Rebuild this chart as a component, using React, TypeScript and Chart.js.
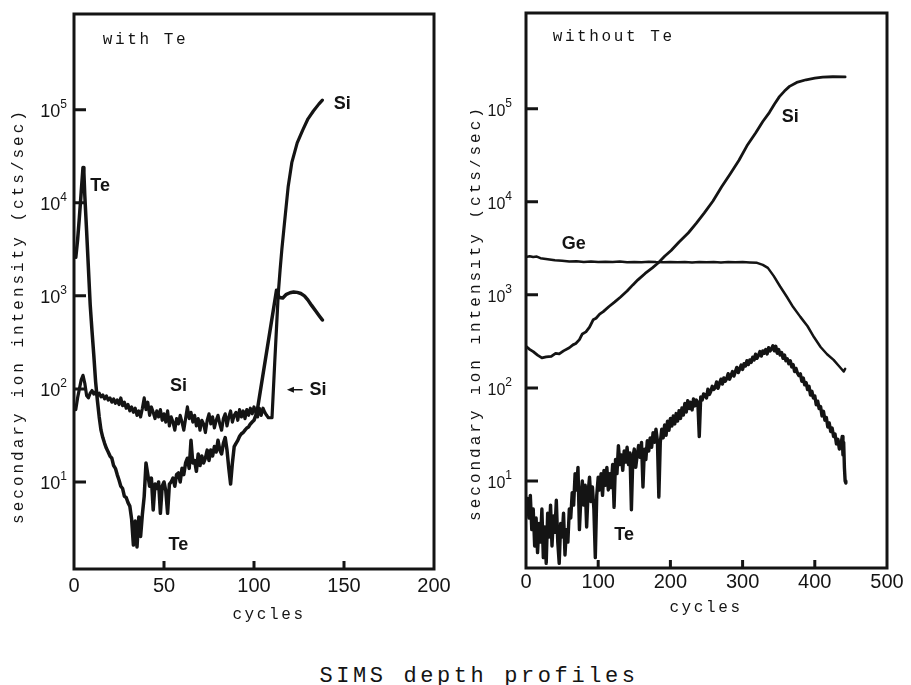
import React, { useEffect, useRef } from 'react';
import { Chart, registerables } from 'chart.js';

Chart.register(...registerables);

// ---------------- data ----------------
// left panel "with Te": [cycle, counts/sec]
const siWithTe: [number, number][] = [
  [1, 60], [2, 80], [3, 100], [4, 125], [5, 140], [6, 115], [7, 85], [8, 80], [9, 90], [10, 96],
  [11, 88], [12, 93], [13, 84], [14, 90], [15, 82], [16, 86], [17, 78], [18, 84], [19, 76], [20, 80],
  [21, 72], [22, 78], [23, 70], [24, 76], [25, 68], [26, 80], [27, 66], [28, 72], [29, 62], [30, 68],
  [31, 58], [32, 64], [33, 56], [34, 62], [35, 52], [36, 58], [37, 50], [38, 62], [39, 80], [40, 60],
  [41, 72], [42, 52], [43, 64], [44, 56], [45, 48], [46, 58], [47, 50], [48, 60], [49, 46], [50, 54],
  [51, 44], [52, 58], [53, 40], [54, 50], [55, 44], [56, 36], [57, 48], [58, 42], [59, 52], [60, 44],
  [61, 36], [62, 48], [63, 64], [64, 48], [65, 56], [66, 44], [67, 52], [68, 40], [69, 48], [70, 36],
  [71, 46], [72, 42], [73, 34], [74, 46], [75, 54], [76, 42], [77, 50], [78, 38], [79, 46], [80, 52],
  [81, 42], [82, 36], [83, 48], [84, 54], [85, 40], [86, 50], [87, 58], [88, 44], [89, 52], [90, 56],
  [91, 46], [92, 60], [93, 50], [94, 58], [95, 48], [96, 60], [97, 52], [98, 62], [99, 54], [100, 64],
  [101, 56], [102, 50], [103, 62], [104, 52], [105, 62], [106, 56], [107, 52], [108, 49], [110, 49],
  [111.5, 190], [112.5, 450], [113.5, 1070], [114.5, 1900], [115.5, 3200], [116.5, 5000], [117.5, 7800],
  [119, 15000], [121, 27000], [124, 44000], [127, 60000], [130, 80000], [133, 97000], [136, 115000], [138, 127000],
];

const teWithTe: [number, number][] = [
  [1, 2600], [2, 4000], [3, 7000], [4, 13000], [5, 24000], [5.5, 21000], [6, 12000], [7, 5000], [8, 2000],
  [9, 800], [10, 420], [11, 230], [12, 120], [13, 75], [14, 50], [15, 36], [16, 30], [17, 26], [18, 23],
  [19, 21], [20, 19], [21, 18], [22, 15], [23, 14], [24, 12], [25, 10.5], [26, 9], [27, 8.5], [28, 7],
  [29, 6.8], [30, 6], [31, 5.5], [32, 4], [33, 2.1], [34, 3.8], [35, 2.0], [36, 4.2], [37, 2.6], [38, 4.5],
  [39, 7], [40, 16], [41, 12], [42, 9], [43, 11], [44, 5], [45, 9.5], [46, 8.5], [47, 10], [48, 4.6],
  [49, 9], [50, 10], [51, 8], [52, 4.6], [53, 9.5], [54, 10], [55, 11], [56, 9], [57, 12], [58, 12.5],
  [59, 10], [60, 14], [61, 12], [62, 16], [63, 18], [64, 14], [65, 28], [66, 16], [67, 17], [68, 13],
  [69, 20], [70, 15], [71, 19], [72, 16], [73, 18], [74, 22], [75, 17], [76, 22], [77, 19], [78, 24],
  [79, 21], [80, 28], [81, 22], [82, 20], [83, 26], [84, 30], [85, 22], [86, 14], [87, 9.5], [88, 16],
  [89, 24], [90, 26], [91, 28], [92, 31], [93, 33], [94, 34], [95, 36], [96, 38], [97, 39], [98, 42],
  [99, 44], [100, 46], [101, 52], [102, 62], [112.5, 1150], [114, 960], [116, 950], [118, 1040],
  [120, 1080], [122, 1100], [124, 1090], [126, 1060], [128, 1000], [130, 900], [132, 790], [134, 700],
  [136, 620], [138, 550],
];

// right panel "without Te"
const siWithoutTe: [number, number][] = [
  [0, 280], [5, 260], [10, 245], [16, 225], [22, 210], [28, 215], [35, 218], [41, 235], [46, 232],
  [52, 250], [60, 270], [65, 290], [69, 300], [74, 330], [78, 380], [83, 400], [88, 450], [93, 540],
  [97, 560], [102, 620], [107, 660], [115, 750], [123, 840], [131, 950], [140, 1100], [148, 1280],
  [155, 1450], [165, 1700], [175, 1950], [183, 2200], [192, 2600], [201, 3000], [212, 3700], [225, 4650],
  [236, 5900], [247, 7600], [259, 10200], [271, 14500], [283, 20000], [295, 28000], [306, 40000],
  [318, 55000], [328, 73000], [337, 91000], [344, 112000], [351, 135000], [358, 155000], [365, 174000],
  [375, 192000], [388, 205000], [400, 213000], [411, 219000], [425, 221000], [442, 220000],
];

const geWithoutTe: [number, number][] = [
  [0, 2550], [5, 2600], [10, 2550], [15, 2580], [20, 2480], [30, 2420], [40, 2350], [50, 2330],
  [60, 2280], [70, 2300], [80, 2260], [90, 2290], [100, 2250], [110, 2270], [120, 2250], [130, 2280],
  [140, 2240], [150, 2260], [160, 2240], [170, 2270], [180, 2250], [190, 2240], [200, 2260], [210, 2240],
  [220, 2250], [230, 2230], [240, 2260], [250, 2240], [260, 2250], [270, 2230], [280, 2260], [290, 2240],
  [300, 2250], [310, 2230], [320, 2210], [328, 2100], [335, 1950], [343, 1600], [352, 1230], [361, 960],
  [370, 740], [380, 580], [390, 460], [399, 350], [408, 275], [417, 230], [426, 200], [434, 170],
  [440, 150], [442, 160],
];

const teWithoutTe: [number, number][] = [
  [0, 5], [2, 6.5], [4, 4], [6, 7], [8, 3], [10, 5], [12, 2], [14, 4], [16, 1.7], [18, 3.5], [20, 2.2],
  [22, 5], [24, 1.5], [26, 3.2], [28, 1.3], [30, 4.5], [32, 2.5], [34, 5.5], [36, 2.0], [38, 4.2],
  [40, 2.8], [42, 6.2], [44, 2.2], [46, 1.3], [48, 3.5], [50, 2.5], [52, 4.5], [54, 1.6], [56, 3.0],
  [58, 2.2], [60, 5], [62, 4.0], [64, 7.5], [66, 5.5], [68, 12], [70, 8], [72, 14], [74, 3.0], [76, 6.5],
  [78, 10], [80, 5.5], [82, 9], [84, 3.2], [86, 7.5], [88, 11], [90, 6], [92, 8.6], [94, 5], [96, 1.5],
  [98, 7], [100, 11], [102, 8], [104, 12], [106, 7], [108, 13], [110, 9], [112, 14], [114, 8], [116, 12],
  [118, 8.5], [120, 15], [122, 5.2], [124, 17], [126, 12], [128, 24], [130, 15], [132, 19], [134, 13],
  [136, 21], [138, 16], [140, 23], [142, 15], [144, 20], [146, 4.9], [148, 18], [150, 22], [152, 14],
  [154, 19], [156, 24], [158, 18], [160, 26], [162, 8.6], [164, 22], [166, 17], [168, 27], [170, 21],
  [172, 29], [174, 23], [176, 33], [178, 26], [180, 36], [182, 27], [184, 6.7], [186, 26], [188, 36],
  [190, 29], [192, 40], [194, 31], [196, 44], [198, 35], [200, 47], [202, 39], [204, 50], [206, 41],
  [208, 53], [210, 44], [212, 57], [214, 47], [216, 61], [218, 51], [220, 68], [222, 55], [224, 73],
  [226, 60], [228, 70], [230, 58], [232, 76], [234, 64], [236, 74], [238, 70], [240, 30], [242, 80],
  [244, 74], [246, 86], [248, 84], [250, 78], [252, 97], [254, 85], [256, 92], [258, 104], [260, 96],
  [262, 101], [264, 116], [266, 99], [268, 112], [270, 124], [272, 110], [274, 128], [276, 118],
  [278, 126], [280, 142], [282, 124], [284, 136], [286, 150], [288, 134], [290, 150], [292, 166],
  [294, 146], [296, 160], [298, 176], [300, 158], [302, 182], [304, 172], [306, 196], [308, 178],
  [310, 200], [312, 188], [314, 214], [316, 200], [318, 230], [320, 208], [322, 224], [324, 246],
  [326, 220], [328, 250], [330, 236], [332, 258], [334, 232], [336, 270], [338, 250], [340, 262],
  [342, 284], [344, 250], [346, 280], [348, 236], [350, 258], [352, 226], [354, 240], [356, 208],
  [358, 226], [360, 196], [362, 205], [364, 182], [366, 196], [368, 168], [370, 178], [372, 150],
  [374, 162], [376, 144], [378, 136], [380, 142], [382, 118], [384, 128], [386, 108], [388, 114],
  [390, 96], [392, 104], [394, 84], [396, 92], [398, 78], [400, 82], [402, 66], [404, 72], [406, 60],
  [408, 63], [410, 50], [412, 56], [414, 45], [416, 48], [418, 38], [420, 42], [422, 34], [424, 37],
  [426, 30], [428, 32], [430, 25], [432, 28], [434, 22], [436, 24], [438, 30], [439, 19], [440, 26],
  [441, 14], [442, 10], [443, 9.5],
];

// ticks
const yTickValues = [1e1, 1e2, 1e3, 1e4, 1e5];
const yTickBase = '10';
const yTickExponents = ['1', '2', '3', '4', '5'];
const xTickValuesLeft = [0, 50, 100, 150, 200];
const xTickValuesRight = [0, 100, 200, 300, 400, 500];

const Y_MIN = 1.16;
const Y_MAX = 1.07e6;
const INK = '#141414';
const MONO = '"Liberation Mono", "DejaVu Sans Mono", monospace';
const SANS = '"Liberation Sans", Arial, sans-serif';

type Note = { text: string; x: number; y: number; size: number; mono?: boolean; bold?: boolean; spacing?: number; align?: CanvasTextAlign };
type Arrow = { x1: number; x2: number; y: number };

const decoPlugin = {
  id: 'deco',
  afterDraw(chart: any, _args: any, opts: any) {
    const { ctx, chartArea: a, scales } = chart;
    const xs = scales.x;
    const ys = scales.y;
    ctx.save();
    ctx.strokeStyle = INK;
    ctx.fillStyle = INK;
    ctx.lineWidth = 3;
    ctx.strokeRect(a.left, a.top, a.right - a.left, a.bottom - a.top);
    ctx.beginPath();
    ys.ticks.forEach((t: any) => {
      const y = ys.getPixelForValue(t.value);
      ctx.moveTo(a.left, y);
      ctx.lineTo(a.left + opts.yTickLen, y);
    });
    xs.ticks.forEach((t: any) => {
      if (t.value <= xs.min || t.value >= xs.max) return;
      const x = xs.getPixelForValue(t.value);
      ctx.moveTo(x, a.bottom);
      ctx.lineTo(x, a.bottom - opts.xTickLen);
    });
    ctx.stroke();

    // y tick labels: 10 with superscript exponent
    ctx.textAlign = 'right';
    ctx.textBaseline = 'alphabetic';
    ys.ticks.forEach((t: any, i: number) => {
      const y = ys.getPixelForValue(t.value);
      const right = a.left - opts.yLabelPad;
      ctx.font = `12px ${SANS}`;
      const ew = ctx.measureText(yTickExponents[i]).width;
      ctx.fillText(yTickExponents[i], right, y - 2);
      ctx.font = `${opts.yLabelSize}px ${SANS}`;
      ctx.fillText(yTickBase, right - ew, y + 7);
    });

    // arrows
    ctx.lineWidth = 1.5;
    (opts.arrows as Arrow[]).forEach((ar) => {
      const x1 = xs.getPixelForValue(ar.x1);
      const x2 = xs.getPixelForValue(ar.x2);
      const y = ys.getPixelForValue(ar.y);
      ctx.beginPath();
      ctx.moveTo(x2, y);
      ctx.lineTo(x1 + 4, y);
      ctx.stroke();
      ctx.beginPath();
      ctx.moveTo(x1, y);
      ctx.lineTo(x1 + 7, y - 3);
      ctx.lineTo(x1 + 7, y + 3);
      ctx.closePath();
      ctx.fill();
    });

    // text notes
    ctx.textBaseline = 'middle';
    (opts.notes as Note[]).forEach((n) => {
      ctx.font = `${n.bold ? 'bold ' : ''}${n.size}px ${n.mono ? MONO : SANS}`;
      (ctx as any).letterSpacing = `${n.spacing || 0}px`;
      ctx.textAlign = n.align || 'center';
      ctx.fillText(n.text, xs.getPixelForValue(n.x), ys.getPixelForValue(n.y));
    });

    // axis titles
    ctx.font = `16px ${MONO}`;
    (ctx as any).letterSpacing = `${opts.titleSpacing}px`;
    ctx.textAlign = 'center';
    ctx.fillText(opts.xTitle, opts.xTitlePos[0], opts.xTitlePos[1]);
    ctx.translate(opts.yTitlePos[0], opts.yTitlePos[1]);
    ctx.rotate(-Math.PI / 2);
    (ctx as any).letterSpacing = `${opts.yTitleSpacing}px`;
    ctx.fillText(opts.yTitle, 0, 0);
    (ctx as any).letterSpacing = '0px';
    ctx.restore();
  },
};

type PanelProps = {
  left: number;
  width: number;
  height: number;
  yAxisWidth: number;
  xAxisHeight: number;
  padTop: number;
  padRight: number;
  xMax: number;
  xTicks: number[];
  yLabelPad: number;
  yLabelSize: number;
  xLabelPad: number;
  series: { data: [number, number][]; width: number }[];
  notes: Note[];
  arrows: Arrow[];
  xTitlePos: [number, number];
  yTitlePos: [number, number];
};

function Panel(p: PanelProps) {
  const ref = useRef<HTMLCanvasElement | null>(null);
  useEffect(() => {
    if (!ref.current) return;
    const chart = new Chart(ref.current, {
      type: 'line',
      data: {
        datasets: p.series.map((s) => ({
          data: s.data.map(([x, y]) => ({ x, y })),
          borderColor: INK,
          borderWidth: s.width,
          pointRadius: 0,
          tension: 0,
          fill: false,
          borderJoinStyle: 'round' as const,
          borderCapStyle: 'round' as const,
        })),
      },
      options: {
        responsive: false,
        animation: false,
        devicePixelRatio: 1,
        layout: { padding: { top: p.padTop, right: p.padRight, left: 0, bottom: 0 } },
        plugins: {
          legend: { display: false },
          tooltip: { enabled: false },
          deco: {
            yTickLen: 12,
            xTickLen: 8,
            yLabelPad: p.yLabelPad,
            yLabelSize: p.yLabelSize,
            notes: p.notes,
            arrows: p.arrows,
            xTitle: 'cycles',
            yTitle: 'secondary ion intensity (cts/sec)',
            titleSpacing: 2.6,
            yTitleSpacing: 3.0,
            xTitlePos: p.xTitlePos,
            yTitlePos: p.yTitlePos,
          },
        } as any,
        scales: {
          x: {
            type: 'linear',
            min: 0,
            max: p.xMax,
            grid: { display: false, drawTicks: false },
            border: { display: false },
            afterBuildTicks: (s: any) => {
              s.ticks = p.xTicks.map((v) => ({ value: v }));
            },
            afterFit: (s: any) => {
              s.height = p.xAxisHeight;
            },
            ticks: {
              autoSkip: false,
              maxRotation: 0,
              padding: p.xLabelPad,
              color: INK,
              font: { family: SANS, size: 20 },
              callback: (v: any) => String(v),
            },
          },
          y: {
            type: 'logarithmic',
            min: Y_MIN,
            max: Y_MAX,
            grid: { display: false, drawTicks: false },
            border: { display: false },
            afterBuildTicks: (s: any) => {
              s.ticks = yTickValues.map((v) => ({ value: v }));
            },
            afterFit: (s: any) => {
              s.width = p.yAxisWidth;
            },
            ticks: { display: false },
          },
        },
      },
      plugins: [decoPlugin],
    });
    return () => chart.destroy();
  }, []);
  return (
    <canvas
      ref={ref}
      width={p.width}
      height={p.height}
      style={{ position: 'absolute', left: p.left, top: 0, width: p.width, height: p.height }}
    />
  );
}

export default function App() {
  return (
    <div style={{ position: 'absolute', left: 0, top: 0, width: 911, height: 685, background: '#fff', overflow: 'hidden' }}>
      <Panel
        left={0}
        width={470}
        height={640}
        yAxisWidth={74}
        xAxisHeight={71}
        padTop={14}
        padRight={36}
        xMax={200}
        xTicks={xTickValuesLeft}
        yLabelPad={7}
        yLabelSize={18}
        xLabelPad={5}
        series={[
          { data: siWithTe, width: 3.2 },
          { data: teWithTe, width: 3.5 },
        ]}
        notes={[
          { text: 'with Te', x: 16, y: 5.6e5, size: 16, mono: true, spacing: 2.6, align: 'left' },
          { text: 'Te', x: 14.5, y: 15000, size: 18, bold: true },
          { text: 'Si', x: 149, y: 115000, size: 18, bold: true },
          { text: 'Si', x: 58, y: 107, size: 18, bold: true },
          { text: 'Si', x: 135.5, y: 98, size: 18, bold: true },
          { text: 'Te', x: 58, y: 2.1, size: 18, bold: true },
        ]}
        arrows={[{ x1: 118.3, x2: 127, y: 98 }]}
        xTitlePos={[269, 615]}
        yTitlePos={[19, 316]}
      />
      <Panel
        left={470}
        width={441}
        height={640}
        yAxisWidth={56}
        xAxisHeight={72}
        padTop={13}
        padRight={24}
        xMax={500}
        xTicks={xTickValuesRight}
        yLabelPad={14}
        yLabelSize={16}
        xLabelPad={2}
        series={[
          { data: siWithoutTe, width: 2.8 },
          { data: geWithoutTe, width: 2.5 },
          { data: teWithoutTe, width: 3.4 },
        ]}
        notes={[
          { text: 'without Te', x: 37, y: 5.9e5, size: 16, mono: true, spacing: 2.6, align: 'left' },
          { text: 'Si', x: 366, y: 81000, size: 18, bold: true },
          { text: 'Ge', x: 66, y: 3550, size: 18, bold: true },
          { text: 'Te', x: 136, y: 2.6, size: 18, bold: true },
        ]}
        arrows={[]}
        xTitlePos={[236, 608]}
        yTitlePos={[6, 313]}
      />
      <div
        style={{
          position: 'absolute',
          left: 229,
          top: 666,
          width: 500,
          textAlign: 'center',
          fontFamily: MONO,
          fontSize: 22,
          lineHeight: '22px',
          letterSpacing: '3.6px',
          color: INK,
        }}
      >
        SIMS depth profiles
      </div>
    </div>
  );
}
